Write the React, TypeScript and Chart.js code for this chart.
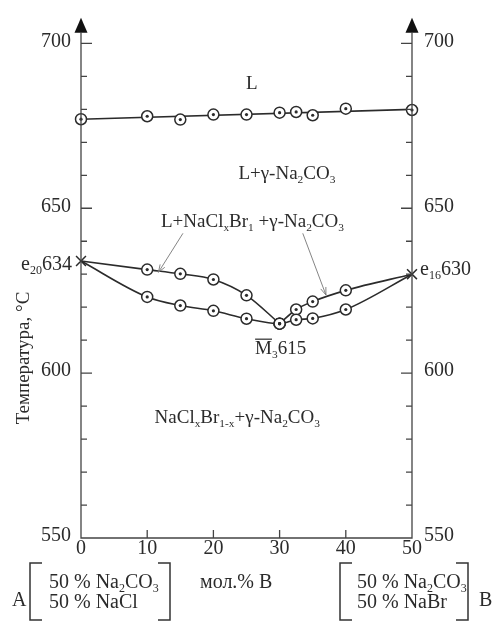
import React, { useEffect, useRef } from 'react';
import { Chart, registerables } from 'chart.js';
Chart.register(...registerables);

// ---- data (mol.% B, temperature °C) ----
const liquidusX = [0, 10, 15, 20, 25, 30, 32.5, 35, 40, 50];
const liquidusT = [677, 677.9, 676.9, 678.4, 678.4, 679, 679.2, 678.2, 680.2, 679.8];
const liquidusFitX = [0, 50];
const liquidusFitT = [677, 680];
const upperLeftX = [0, 10, 15, 20, 25, 30];
const upperLeftT = [634, 631.4, 630.1, 628.4, 623.6, 615];
const upperRightX = [30, 32.5, 35, 40, 50];
const upperRightT = [615, 619.3, 621.7, 625.1, 630];
const lowerX = [0, 10, 15, 20, 25, 30, 32.5, 35, 40, 50];
const lowerT = [634, 623.1, 620.5, 618.9, 616.5, 615, 616.2, 616.6, 619.3, 630];
const eutecticX = [0, 50];
const eutecticT = [634, 630];
const xTicks = [0, 10, 20, 30, 40, 50];
const yMajorTicks = [550, 600, 650, 700];
const yMinorTicks = [560, 570, 580, 590, 610, 620, 630, 640, 660, 670, 680, 690];

const FONT = "'Liberation Serif', 'DejaVu Serif', serif";
const INK = '#2b2b2b';

type Seg = [string, number]; // 0 normal, 1 subscript

const zip = (xs: number[], ys: number[]) => xs.map((x, i) => ({ x, y: ys[i] }));
const inner = (xs: number[], ys: number[]) =>
  zip(xs, ys).filter((p) => p.x !== 0 && p.x !== 50);

function richWidth(ctx: CanvasRenderingContext2D, segs: Seg[], size: number) {
  let w = 0;
  for (const [t, k] of segs) {
    ctx.font = `${k ? size * 0.6 : size}px ${FONT}`;
    w += ctx.measureText(t).width;
  }
  return w;
}

function rich(
  ctx: CanvasRenderingContext2D,
  segs: Seg[],
  x: number,
  y: number,
  size: number,
  align: 'left' | 'center' | 'right' = 'left'
) {
  const w = richWidth(ctx, segs, size);
  let cx = align === 'center' ? x - w / 2 : align === 'right' ? x - w : x;
  ctx.textAlign = 'left';
  ctx.textBaseline = 'alphabetic';
  ctx.fillStyle = INK;
  const starts: number[] = [];
  for (const [t, k] of segs) {
    ctx.font = `${k ? size * 0.6 : size}px ${FONT}`;
    starts.push(cx);
    ctx.fillText(t, cx, k ? y + size * 0.2 : y);
    cx += ctx.measureText(t).width;
  }
  return starts;
}

const overlayPlugin = {
  id: 'overlay',
  afterDraw(chart: any) {
    const ctx: CanvasRenderingContext2D = chart.ctx;
    const xs = chart.scales.x;
    const ys = chart.scales.y;
    const px = (v: number) => xs.getPixelForValue(v);
    const py = (v: number) => ys.getPixelForValue(v);
    const L = px(0);
    const R = px(50);
    const B = py(550);
    const arrowBase = py(703.2);
    const arrowTip = py(707.8);
    ctx.save();
    // axes
    ctx.strokeStyle = '#444';
    ctx.lineWidth = 1.3;
    ctx.beginPath();
    ctx.moveTo(L, arrowBase);
    ctx.lineTo(L, B);
    ctx.lineTo(R, B);
    ctx.lineTo(R, arrowBase);
    ctx.stroke();
    ctx.fillStyle = '#111';
    for (const ax of [L, R]) {
      ctx.beginPath();
      ctx.moveTo(ax, arrowTip);
      ctx.lineTo(ax - 6.5, arrowBase);
      ctx.lineTo(ax + 6.5, arrowBase);
      ctx.closePath();
      ctx.fill();
    }
    // y ticks
    ctx.beginPath();
    for (const v of yMajorTicks) {
      if (v === 550) continue;
      ctx.moveTo(L, py(v));
      ctx.lineTo(L + 11, py(v));
      ctx.moveTo(R, py(v));
      ctx.lineTo(R - 11, py(v));
    }
    for (const v of yMinorTicks) {
      ctx.moveTo(L, py(v));
      ctx.lineTo(L + 6, py(v));
      ctx.moveTo(R, py(v));
      ctx.lineTo(R - 6, py(v));
    }
    for (const v of xTicks) {
      if (v === 0 || v === 50) continue;
      ctx.moveTo(px(v), B);
      ctx.lineTo(px(v), B - 8);
    }
    ctx.stroke();
    // tick labels
    ctx.fillStyle = INK;
    ctx.font = `20px ${FONT}`;
    ctx.textBaseline = 'middle';
    for (const v of yMajorTicks) {
      ctx.textAlign = 'right';
      ctx.fillText(String(v), L - 10, py(v) - 2);
      ctx.textAlign = 'left';
      ctx.fillText(String(v), R + 12, py(v) - 2);
    }
    ctx.textAlign = 'center';
    for (const v of xTicks) ctx.fillText(String(v), px(v), B + 11);

    // axis title
    ctx.save();
    ctx.translate(24, 358);
    ctx.rotate(-Math.PI / 2);
    ctx.textAlign = 'center';
    ctx.textBaseline = 'middle';
    ctx.font = `19px ${FONT}`;
    ctx.fillText('Температура, °C', 0, 0);
    ctx.restore();

    // region labels
    const S = 19;
    rich(ctx, [['L', 0]], px(25.8), py(686.2), S, 'center');
    rich(ctx, [['L+γ-Na', 0], ['2', 1], ['CO', 0], ['3', 1]], px(31.1), py(658.9), S, 'center');
    rich(
      ctx,
      [['L+NaCl', 0], ['x', 1], ['Br', 0], ['1', 1], [' +γ-Na', 0], ['2', 1], ['CO', 0], ['3', 1]],
      px(25.9),
      py(644.3),
      S,
      'center'
    );
    rich(
      ctx,
      [['NaCl', 0], ['x', 1], ['Br', 0], ['1-x', 1], ['+γ-Na', 0], ['2', 1], ['CO', 0], ['3', 1]],
      px(23.6),
      py(584.9),
      S,
      'center'
    );
    // M3 615 with overline
    const mx = px(26.3);
    const my = py(605.8);
    rich(ctx, [['M', 0], ['3', 1], ['615', 0]], mx, my, S, 'left');
    ctx.font = `${S}px ${FONT}`;
    const mw = ctx.measureText('M').width;
    ctx.strokeStyle = INK;
    ctx.lineWidth = 1.2;
    ctx.beginPath();
    ctx.moveTo(mx, my - S * 0.78);
    ctx.lineTo(mx + mw, my - S * 0.78);
    ctx.stroke();
    // eutectic labels
    rich(ctx, [['e', 0], ['20', 1], ['634', 0]], L - 9, py(631.3), 20, 'right');
    rich(ctx, [['e', 0], ['16', 1], ['630', 0]], R + 8, py(629.7), 20, 'left');

    // pointer arrows
    const arrows = [
      [15.4, 642.4, 11.7, 630.6],
      [33.5, 642.4, 37.0, 623.7],
    ];
    ctx.strokeStyle = '#777';
    ctx.lineWidth = 0.9;
    for (const [x1, y1, x2, y2] of arrows) {
      const ax = px(x1), ay = py(y1), bx = px(x2), by = py(y2);
      const ang = Math.atan2(by - ay, bx - ax);
      ctx.beginPath();
      ctx.moveTo(ax, ay);
      ctx.lineTo(bx, by);
      for (const d of [0.35, -0.35]) {
        ctx.moveTo(bx, by);
        ctx.lineTo(bx - 8 * Math.cos(ang + d), by - 8 * Math.sin(ang + d));
      }
      ctx.stroke();
    }

    // bottom component legend
    const drawBracket = (x: number, dir: number) => {
      ctx.beginPath();
      ctx.moveTo(x + dir * 12, 563);
      ctx.lineTo(x, 563);
      ctx.lineTo(x, 620);
      ctx.lineTo(x + dir * 12, 620);
      ctx.stroke();
    };
    ctx.strokeStyle = '#333';
    ctx.lineWidth = 1.5;
    drawBracket(30, 1);
    drawBracket(170, -1);
    drawBracket(340, 1);
    drawBracket(468, -1);
    const T = 20;
    rich(ctx, [['A', 0]], 12, 606, T, 'left');
    rich(ctx, [['50 % Na', 0], ['2', 1], ['CO', 0], ['3', 1]], 49, 588, T, 'left');
    rich(ctx, [['50 % NaCl', 0]], 49, 608, T, 'left');
    rich(ctx, [['мол.% B', 0]], 200, 588, T, 'left');
    rich(ctx, [['50 % Na', 0], ['2', 1], ['CO', 0], ['3', 1]], 357, 588, T, 'left');
    rich(ctx, [['50 % NaBr', 0]], 357, 608, T, 'left');
    rich(ctx, [['B', 0]], 479, 606, T, 'left');
    ctx.restore();
  },
};

export default function App() {
  const ref = useRef<HTMLCanvasElement | null>(null);
  useEffect(() => {
    if (!ref.current) return;
    const lineBase = {
      type: 'line' as const,
      borderColor: INK,
      borderWidth: 1.6,
      pointRadius: 0,
      fill: false,
      order: 3,
      clip: false as any,
    };
    const markerPts = [
      ...zip(liquidusX, liquidusT),
      ...inner(upperLeftX, upperLeftT),
      ...inner(upperRightX, upperRightT),
      ...inner(lowerX, lowerT),
    ];
    const chart = new Chart(ref.current, {
      type: 'scatter',
      data: {
        datasets: [
          { ...lineBase, data: zip(liquidusFitX, liquidusFitT), tension: 0 },
          { ...lineBase, data: zip(upperLeftX, upperLeftT), cubicInterpolationMode: 'monotone' },
          { ...lineBase, data: zip(upperRightX, upperRightT), cubicInterpolationMode: 'monotone' },
          { ...lineBase, data: zip(lowerX, lowerT), cubicInterpolationMode: 'monotone' },
          {
            type: 'scatter',
            data: markerPts,
            pointStyle: 'circle',
            pointRadius: 5.5,
            pointBorderWidth: 1.5,
            pointBorderColor: INK,
            pointBackgroundColor: '#fff',
            order: 2,
            clip: false as any,
          },
          {
            type: 'scatter',
            data: markerPts,
            pointStyle: 'circle',
            pointRadius: 1.6,
            pointBorderWidth: 0,
            pointBackgroundColor: INK,
            order: 1,
            clip: false as any,
          },
          {
            type: 'scatter',
            data: zip(eutecticX, eutecticT),
            pointStyle: 'crossRot',
            pointRadius: 7,
            pointBorderWidth: 1.5,
            pointBorderColor: INK,
            order: 1,
            clip: false as any,
          },
        ] as any,
      },
      options: {
        animation: false,
        responsive: false,
        maintainAspectRatio: false,
        layout: { padding: { left: 81, right: 85, top: 17, bottom: 83 } },
        plugins: { legend: { display: false }, tooltip: { enabled: false } },
        events: [],
        scales: {
          x: { type: 'linear', min: 0, max: 50, display: false },
          y: { type: 'linear', min: 550, max: 708, display: false },
        },
      },
      plugins: [overlayPlugin],
    });
    return () => chart.destroy();
  }, []);
  return (
    <div style={{ position: 'absolute', left: 0, top: 0, width: 497, height: 621, background: '#fff' }}>
      <canvas ref={ref} width={497} height={621} style={{ width: 497, height: 621, display: 'block' }} />
    </div>
  );
}
